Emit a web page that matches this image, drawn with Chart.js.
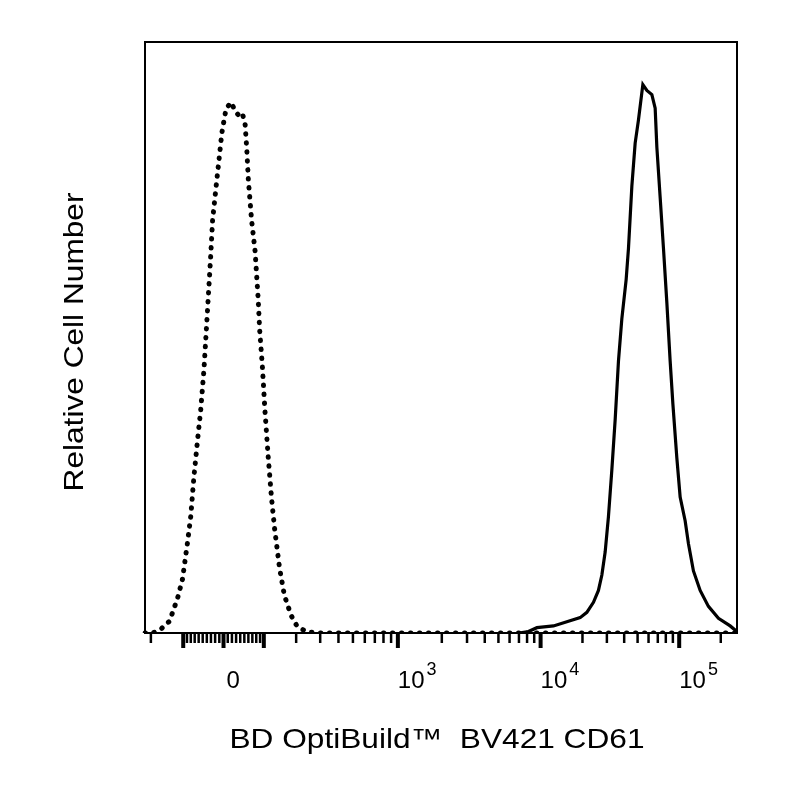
<!DOCTYPE html>
<html>
<head>
<meta charset="utf-8">
<script src="https://cdn.jsdelivr.net/npm/chart.js@4.4.0/dist/chart.umd.min.js"></script>
<style>
  html, body { margin: 0; padding: 0; background: #fff; }
  #wrap { width: 800px; height: 800px; }
</style>
</head>
<body>
<div id="wrap"><canvas id="histChart" width="800" height="800"></canvas></div>
<script>
// isotype / unstained control (dotted line)
const isoValues = [-222, -193, -165, -139, -116, -102, -89, -80, -72, -63, -55, -47, -39, -31, -26, -18, -11, -4,
  6, 18, 28, 36, 45, 52, 56, 60, 68, 77, 85, 89, 96, 103, 112, 121, 130, 145, 160, 182, 205, 243,
  300, 600, 2000, 10000, 50000, 262144];
const isoCounts = [0, 0, 0.7, 2.0, 5.8, 9.1, 15.1, 19.8, 26.4, 32.5, 37.7, 44.5, 53.8, 63.3, 69.9, 75.3, 79.9, 84.6,
  88.7, 89.8, 88.3, 87.6, 88.0, 86.0, 81.9, 76.6, 69.9, 64.6, 56.5, 51.2, 45.2, 37.7, 29.8, 23.1, 17.8, 11.0, 6.4, 3.0, 1.0, 0.2,
  0, 0, 0, 0, 0, 0];

// BV421 CD61 stained (solid line)
const cd61Values = [7000, 8190, 9410, 12370, 15440, 19250, 21510, 24000, 26070, 27600, 29150, 30790, 32580, 34430,
  36370, 38480, 41330, 42960, 45450, 48020, 50730, 54580, 58350, 63410, 67000, 68920, 72810, 76930, 81400,
  86010, 89970, 96170, 101600, 110400, 116700, 126800, 141800, 162800, 192400, 233900, 261500];
const cd61Counts = [0, 0.25, 0.9, 1.2, 1.9, 2.6, 3.5, 5.2, 7.2, 9.8, 13.7, 19.7, 27.6, 36.1,
  46.0, 53.2, 59.8, 65.1, 75.6, 82.9, 86.8, 92.8, 91.8, 91.1, 88.8, 82.2, 73.7, 65.1, 55.9,
  46.0, 38.8, 29.6, 23.0, 19.0, 15.1, 10.5, 7.2, 4.5, 2.5, 1.2, 0.25];

// axis ticks
const majorTicks = [-100, 0, 100, 1000, 10000, 100000];
const minorTicks = [-200, -90, -80, -70, -60, -50, -40, -30, -20, -10, 10, 20, 30, 40, 50, 60, 70, 80, 90,
  200, 300, 400, 500, 600, 700, 800, 900,
  2000, 3000, 4000, 5000, 6000, 7000, 8000, 9000,
  20000, 30000, 40000, 50000, 60000, 70000, 80000, 90000, 200000];
const labelValues = [0, 1000, 10000, 100000];
const labelBases = ['0', '10', '10', '10'];
const labelExps = ['', '3', '4', '5'];

const xTitle = 'BD OptiBuild\u2122  BV421 CD61';
const yTitle = 'Relative Cell Number';

// biexponential (logicle-like) display transform, in decades
const T_TOP = 262144;
const LIN_W = 0.35;     // width of linear zone
const ZERO_POS = 0.569; // decades from left edge to zero
const SPAN = 4.29;      // decades across whole axis

function findP(w) {
    var lo = 1.0001, hi = 10;
    for (var i = 0; i < 60; i++) {
        var m = (lo + hi) / 2;
        if (2 * m * Math.log10(m) / (m + 1) < w) lo = m; else hi = m;
    }
    return (lo + hi) / 2;
}
const P = findP(LIN_W);
function shape(d) {
    return Math.pow(10, d) - P * P * Math.pow(10, -d / P) + P * P - 1;
}
const K = T_TOP / shape(SPAN - ZERO_POS);
function biexValue(d) {
    return d >= 0 ? K * shape(d) : -K * shape(-d);
}
function biexDisplay(v) {
    var a = Math.abs(v) / K, lo = 0, hi = 8;
    for (var i = 0; i < 50; i++) {
        var m = (lo + hi) / 2;
        if (shape(m) < a) lo = m; else hi = m;
    }
    var d = (lo + hi) / 2;
    return v < 0 ? -d : d;
}

class BiexScale extends Chart.Scale {
    determineDataLimits() {
        this.min = biexValue(-ZERO_POS);
        this.max = T_TOP;
    }
    buildTicks() {
        return majorTicks.map(v => ({ value: v }));
    }
    getLabelForValue(value) {
        return String(value);
    }
    getPixelForValue(value) {
        return this.getPixelForDecimal((biexDisplay(value) + ZERO_POS) / SPAN);
    }
    getValueForPixel(pixel) {
        return biexValue(this.getDecimalForPixel(pixel) * SPAN - ZERO_POS);
    }
}
BiexScale.id = 'biex';
BiexScale.defaults = {};
Chart.register(BiexScale);

function pairs(xs, ys) {
    return xs.map((x, i) => ({ x: x, y: ys[i] }));
}

const FONT = '"Liberation Sans", Arial, sans-serif';
const STRETCH = 1.13; // titles in the source look a bit wide

const axisDecor = {
    id: 'axisDecor',
    afterDatasetsDraw(chart) {
        var ctx = chart.ctx, a = chart.chartArea, xs = chart.scales.x;
        ctx.save();
        ctx.strokeStyle = '#000';
        ctx.fillStyle = '#000';
        ctx.lineWidth = 2;
        ctx.strokeRect(a.left, a.top, a.right - a.left, a.bottom - a.top);

        ctx.lineWidth = 2.5;
        minorTicks.forEach(function (v) {
            var x = xs.getPixelForValue(v);
            ctx.beginPath(); ctx.moveTo(x, a.bottom); ctx.lineTo(x, a.bottom + 10); ctx.stroke();
        });
        ctx.lineWidth = 4;
        majorTicks.forEach(function (v) {
            var x = xs.getPixelForValue(v);
            ctx.beginPath(); ctx.moveTo(x, a.bottom); ctx.lineTo(x, a.bottom + 15); ctx.stroke();
        });

        ctx.textAlign = 'left';
        ctx.textBaseline = 'alphabetic';
        labelValues.forEach(function (v, i) {
            var x = xs.getPixelForValue(v) + (v === 0 ? 3 : 0);
            ctx.font = '24px ' + FONT;
            ctx.fillText(labelBases[i], x, 688);
            if (labelExps[i]) {
                var w = ctx.measureText(labelBases[i]).width;
                ctx.font = '18px ' + FONT;
                ctx.fillText(labelExps[i], x + w + 2, 675);
            }
        });

        ctx.font = '28px ' + FONT;
        ctx.textAlign = 'center';
        ctx.save();
        ctx.translate(437, 748);
        ctx.scale(STRETCH, 1);
        ctx.fillText(xTitle, 0, 0);
        ctx.restore();

        ctx.translate(83, 342);
        ctx.rotate(-Math.PI / 2);
        ctx.scale(STRETCH, 1);
        ctx.fillText(yTitle, 0, 0);
        ctx.restore();
    }
};

var ctx = document.getElementById('histChart').getContext('2d');
var myChart = new Chart(ctx, {
    type: 'line',
    data: {
        datasets: [
            {
                label: 'Control',
                data: pairs(isoValues, isoCounts),
                borderColor: '#000',
                borderWidth: 5,
                borderDash: [0.5, 8.5],
                borderCapStyle: 'round',
                pointRadius: 0,
                tension: 0,
                fill: false
            },
            {
                label: 'BV421 CD61',
                data: pairs(cd61Values, cd61Counts),
                borderColor: '#000',
                borderWidth: 3.2,
                pointRadius: 0,
                tension: 0,
                fill: false
            }
        ]
    },
    options: {
        responsive: false,
        animation: false,
        events: [],
        layout: { padding: { left: 145, right: 63, top: 42, bottom: 167 } },
        scales: {
            x: { type: 'biex', display: false },
            y: { type: 'linear', min: 0, max: 100, display: false }
        },
        plugins: {
            legend: { display: false },
            tooltip: { enabled: false }
        }
    },
    plugins: [axisDecor]
});
</script>
</body>
</html>
